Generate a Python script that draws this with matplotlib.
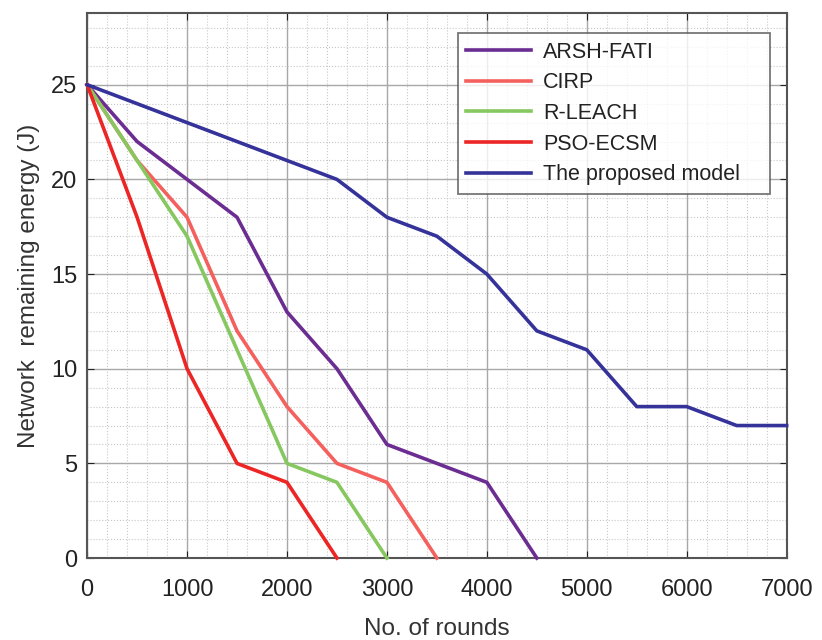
import matplotlib
matplotlib.use('Agg')
import matplotlib.pyplot as plt
from matplotlib.ticker import MultipleLocator

plt.rcParams['font.family'] = ['Liberation Sans', 'DejaVu Sans']

# data
rounds = [0, 500, 1000, 1500, 2000, 2500, 3000, 3500, 4000, 4500, 5000, 5500, 6000, 6500, 7000]
arsh_fati = [25, 22, 20, 18, 13, 10, 6, 5, 4, 0]
cirp = [25, 21, 18, 12, 8, 5, 4, 0]
r_leach = [25, 21, 17, 11, 5, 4, 0]
pso_ecsm = [25, 18, 10, 5, 4, 0]
proposed = [25, 24, 23, 22, 21, 20, 18, 17, 15, 12, 11, 8, 8, 7, 7]

series = [
	('ARSH-FATI', arsh_fati, '#6B2D92'),
	('CIRP', cirp, '#F4605E'),
	('R-LEACH', r_leach, '#86C85F'),
	('PSO-ECSM', pso_ecsm, '#EC2525'),
	('The proposed model', proposed, '#35339A'),
]


def main():
	fig = plt.figure(figsize=(8.22, 6.4), dpi=100)
	ax = fig.add_axes([0.106, 0.128, 0.851, 0.852])

	for name, vals, col in series:
		ax.plot(rounds[:len(vals)], vals, color=col, linewidth=2.6, label=name, clip_on=False, zorder=3)

	ax.set_xlim(0, 7000)
	ax.set_ylim(0, 28.8)
	ax.xaxis.set_major_locator(MultipleLocator(1000))
	ax.xaxis.set_minor_locator(MultipleLocator(200))
	ax.yaxis.set_major_locator(MultipleLocator(5))
	ax.yaxis.set_minor_locator(MultipleLocator(1))

	ax.grid(which='major', color='#a8a8a8', linewidth=1.0, linestyle='-')
	ax.grid(which='minor', color='#c8c8c8', linewidth=0.8, linestyle=':')
	ax.set_axisbelow(True)

	ax.tick_params(which='both', direction='in', top=True, right=True, labelsize=17, colors='#222222')
	ax.tick_params(which='major', length=5)
	ax.tick_params(axis='x', which='major', pad=15)
	ax.tick_params(axis='y', which='major', pad=7)
	ax.tick_params(which='minor', length=0)
	for sp in ax.spines.values():
		sp.set_color('#555555')
		sp.set_linewidth(1.5)

	ax.set_xlabel('No. of rounds', fontsize=17.5, color='#333333', labelpad=12)
	ax.set_ylabel('Network  remaining energy (J)', fontsize=17.5, color='#333333', labelpad=8)

	leg = ax.legend(loc='upper left', bbox_to_anchor=(0.530, 0.670, 0.446, 0.293), mode='expand',
		borderaxespad=0, fontsize=15.5, frameon=True, fancybox=False, handlelength=3.0,
		handletextpad=0.55, borderpad=0.4, labelspacing=0.45)
	leg.get_frame().set_edgecolor('#555555')
	leg.get_frame().set_linewidth(1.3)
	for t in leg.get_texts():
		t.set_color('#222222')

	fig.savefig('out.png', dpi=100)


if __name__ == "__main__":
	main()
